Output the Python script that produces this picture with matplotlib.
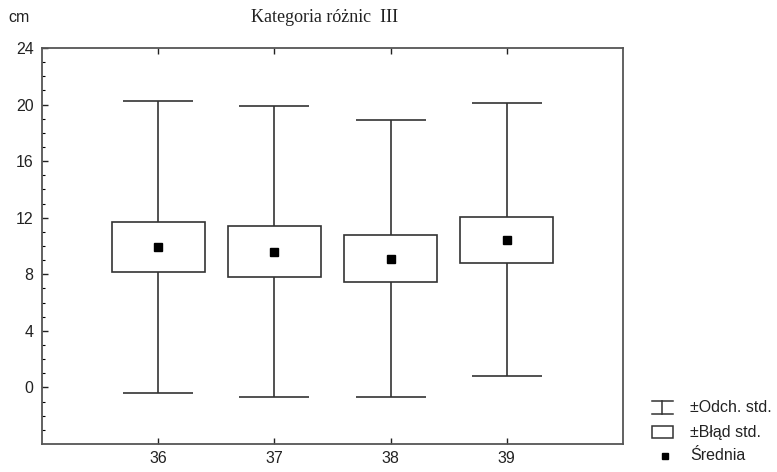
import matplotlib
matplotlib.use("Agg")
import matplotlib.pyplot as plt
import numpy as np
from matplotlib.patches import Rectangle
from matplotlib.lines import Line2D

categories = [36, 37, 38, 39]
means = [9.91, 9.58, 9.06, 10.43]
se_low = [8.16, 7.84, 7.43, 8.83]
se_high = [11.70, 11.38, 10.76, 12.08]
sd_low = [-0.42, -0.71, -0.71, 0.78]
sd_high = [20.25, 19.90, 18.90, 20.10]
yticks = [0, 4, 8, 12, 16, 20, 24]
legend_labels = ['±Odch. std.', '±Błąd std.', 'Średnia']

plt.rcParams['font.family'] = ['Liberation Sans', 'DejaVu Sans']

W, H = 777, 472
fig = plt.figure(figsize=(W / 100, H / 100), dpi=100)
ax = fig.add_axes([42 / W, 1 - 444 / H, (623 - 42) / W, (444 - 48) / H])

x = np.array(categories, dtype=float)
means_a = np.array(means)
yerr = [means_a - np.array(sd_low), np.array(sd_high) - means_a]
ec = '#333333'
ax.errorbar(x, means_a, yerr=yerr, fmt='none', ecolor=ec, elinewidth=1.2,
            capsize=25, capthick=1.2, zorder=1)
ax.bar(x, np.array(se_high) - np.array(se_low), bottom=se_low, width=0.8,
       facecolor='white', edgecolor=ec, linewidth=1.2, zorder=2)
ax.plot(x, means_a, linestyle='none', marker='s', markersize=5.5,
        color='black', zorder=3)

ax.set_xlim(35, 40)
ax.set_ylim(-4, 24)
ax.set_xticks(categories)
ax.set_xticklabels([str(c) for c in categories])
ax.set_yticks(yticks)
ax.set_yticks(np.arange(-3, 24, 1), minor=True)
ax.tick_params(axis='both', direction='in', labelsize=11.5, colors='#222222',
               length=4, width=1, top=True)
ax.tick_params(axis='y', which='minor', direction='in', length=2, width=0.8)
ax.tick_params(axis='x', pad=5)
ax.tick_params(axis='y', pad=6)
for s in ax.spines.values():
    s.set_color('#555555')
    s.set_linewidth(1.3)

fig.text(8 / W, 1 - 18 / H, 'cm', fontsize=11.5, color='#222222', va='center')
fig.text(325 / W, 1 - 18 / H, 'Kategoria różnic  III', fontsize=13,
         family=['Liberation Serif', 'DejaVu Serif'], ha='center', va='center',
         color='#222222')

# legend drawn in figure pixel coordinates
def fx(px):
    return px / W

def fy(py):
    return 1 - py / H

lw = 1.1
# whisker symbol
fig.add_artist(Line2D([fx(662), fx(662)], [fy(401), fy(414)], color=ec, lw=lw))
fig.add_artist(Line2D([fx(652), fx(673)], [fy(401), fy(401)], color=ec, lw=lw))
fig.add_artist(Line2D([fx(652), fx(673)], [fy(414), fy(414)], color=ec, lw=lw))
# box symbol
fig.add_artist(Rectangle((fx(652), fy(438)), fx(673) - fx(652), fy(426) - fy(438),
                         facecolor='white', edgecolor=ec, lw=lw,
                         transform=fig.transFigure))
# mean symbol
fig.add_artist(Line2D([fx(665)], [fy(456)], linestyle='none', marker='s',
                      markersize=4.5, color='black'))
for lab, py in zip(legend_labels, [407, 432, 456]):
    fig.text(fx(690), fy(py), lab, fontsize=11.5, color='#222222', va='center')

fig.savefig('out.png', dpi=100)
